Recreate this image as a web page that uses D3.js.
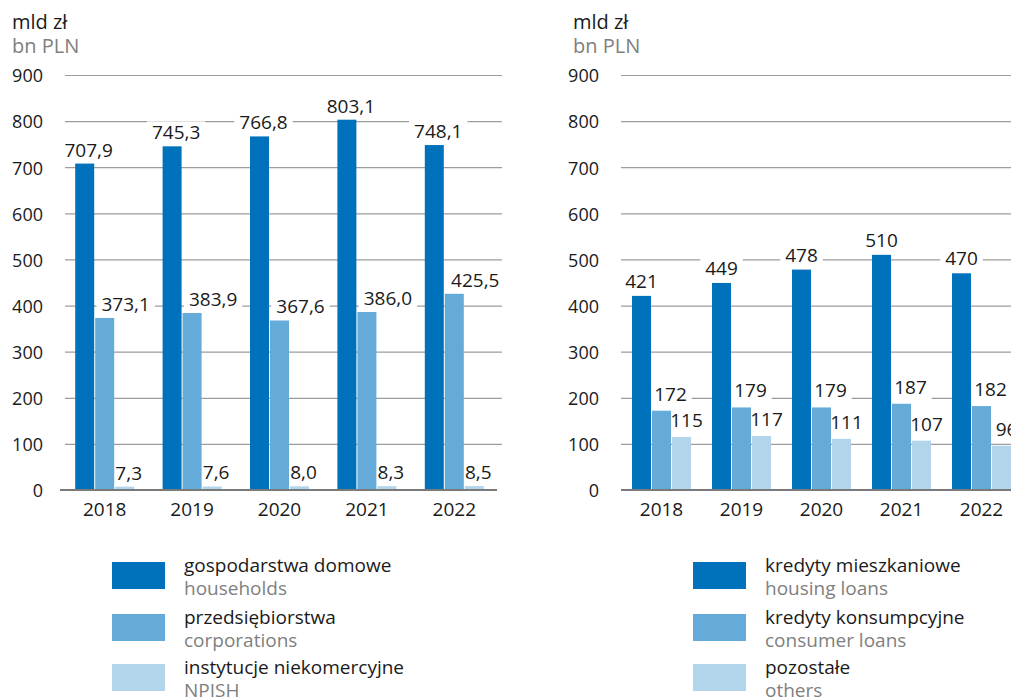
<!DOCTYPE html>
<html><head><meta charset="utf-8">
<script src="https://cdn.jsdelivr.net/npm/d3@7"></script>
<style>
html,body{margin:0;padding:0;background:#fff;}
svg{display:block;font-family:"Open Sans",sans-serif;}
</style></head>
<body>
<svg id="c" width="1011" height="697"></svg>
<script>
const years = ["2018","2019","2020","2021","2022"];
const yTicks = [0,100,200,300,400,500,600,700,800,900];

// Left chart: debt by sector
const households = [707.9, 745.3, 766.8, 803.1, 748.1];
const corporations = [373.1, 383.9, 367.6, 386.0, 425.5];
const npish = [7.3, 7.6, 8.0, 8.3, 8.5];
const leftNamesPl = ["gospodarstwa domowe","przedsiębiorstwa","instytucje niekomercyjne"];
const leftNamesEn = ["households","corporations","NPISH"];

// Right chart: household loans by type
const housingLoans = [421, 449, 478, 510, 470];
const consumerLoans = [172, 179, 179, 187, 182];
const otherLoans = [115, 117, 111, 107, 96];
const rightNamesPl = ["kredyty mieszkaniowe","kredyty konsumpcyjne","pozostałe"];
const rightNamesEn = ["housing loans","consumer loans","others"];

const unitPl = "mld zł";
const unitEn = "bn PLN";

const colors = ["#0072bc","#65abd9","#b2d5ec"];
const svg = d3.select("#c");

const y = d3.scaleLinear().domain([0,900]).range([490,75]);

function drawChart(cfg){
  const g = svg.append("g");
  const x0 = d3.scaleBand().domain(years).range(cfg.band);
  const x1 = d3.scaleBand().domain([0,1,2]).range([-29.5,29.5]).paddingInner(0.05);

  // titles
  g.append("text").attr("x",cfg.titleX).attr("y",29).attr("font-size",20).attr("fill","#1a1a1a").text(unitPl);
  g.append("text").attr("x",cfg.titleX).attr("y",53).attr("font-size",20).attr("fill","#808080").text(unitEn);

  // y axis with gridlines
  const ya = g.append("g").attr("transform",`translate(${cfg.gridX0},0)`)
    .call(d3.axisLeft(y).tickValues(yTicks).tickSize(-(cfg.gridX1-cfg.gridX0)).tickPadding(22).tickFormat(d3.format("d")));
  ya.select(".domain").remove();
  ya.selectAll(".tick line").attr("stroke","#9d9d9d").attr("stroke-width",1.2)
    .filter(d=>d===0).remove();
  ya.selectAll(".tick text").attr("font-size",18).attr("fill","#1a1a1a").attr("font-family","Open Sans").attr("dy","0.38em");

  const series = cfg.series;
  const bgLayer = g.append("g");
  const barLayer = g.append("g");
  const txtLayer = g.append("g");

  series.forEach((vals,si)=>{
    barLayer.selectAll(null).data(vals).join("rect")
      .attr("x",(d,i)=>x0(years[i])+x0.bandwidth()/2+x1(si))
      .attr("width",x1.bandwidth())
      .attr("y",d=>y(d))
      .attr("height",d=>y(0)-y(d))
      .attr("fill",colors[si]);
    txtLayer.selectAll(null).data(vals).join("text")
      .attr("x",(d,i)=>x0(years[i])+x0.bandwidth()/2+x1(si)+x1.bandwidth()/2+cfg.dx[si])
      .attr("y",d=>y(d)-cfg.gap[si])
      .attr("text-anchor","middle")
      .attr("font-size",19)
      .attr("fill","#1a1a1a")
      .text(cfg.fmt);
  });
  txtLayer.selectAll("text").each(function(){
    const b = this.getBBox();
    bgLayer.append("rect").attr("x",b.x-5).attr("y",b.y+2).attr("width",b.width+10).attr("height",b.height-2).attr("fill","#fff");
  });

  // baseline
  g.append("line").attr("x1",cfg.baseX0).attr("x2",cfg.baseX1).attr("y1",y(0)).attr("y2",y(0))
    .attr("stroke","#7a7a7a").attr("stroke-width",2);

  // x axis
  const xa = g.append("g").attr("transform",`translate(0,${y(0)})`)
    .call(d3.axisBottom(x0).tickSize(0).tickPadding(0));
  xa.select(".domain").remove();
  xa.selectAll(".tick text").attr("font-size",19).attr("fill","#1a1a1a").attr("font-family","Open Sans").attr("dy",null).attr("y",26);

  // legend
  const lg = g.append("g");
  const rowY = [562,614,664];
  cfg.namesPl.forEach((n,i)=>{
    lg.append("rect").attr("x",cfg.legX).attr("y",rowY[i]).attr("width",53).attr("height",27).attr("fill",colors[i]);
    lg.append("text").attr("x",cfg.legX+72).attr("y",rowY[i]+10).attr("font-size",19).attr("fill","#1a1a1a").text(n);
    lg.append("text").attr("x",cfg.legX+72).attr("y",rowY[i]+33).attr("font-size",19).attr("fill","#808080").text(cfg.namesEn[i]);
  });
}

const fmt1 = d=>d3.format(".1f")(d).replace(".",",");
drawChart({
  band:[61,498], gridX0:65, gridX1:502, baseX0:60, baseX1:497, titleX:12,
  series:[households,corporations,npish], dx:[4,21,4], gap:[7,7,7], fmt:fmt1,
  namesPl:leftNamesPl, namesEn:leftNamesEn, legX:112
});
drawChart({
  band:[621.5,1021.5], gridX0:621, gridX1:1011, baseX0:621, baseX1:1011, titleX:573,
  series:[housingLoans,consumerLoans,otherLoans], dx:[0,9,5], gap:[8,10,10], fmt:d=>String(d),
  namesPl:rightNamesPl, namesEn:rightNamesEn, legX:693
});
</script>
</body></html>
